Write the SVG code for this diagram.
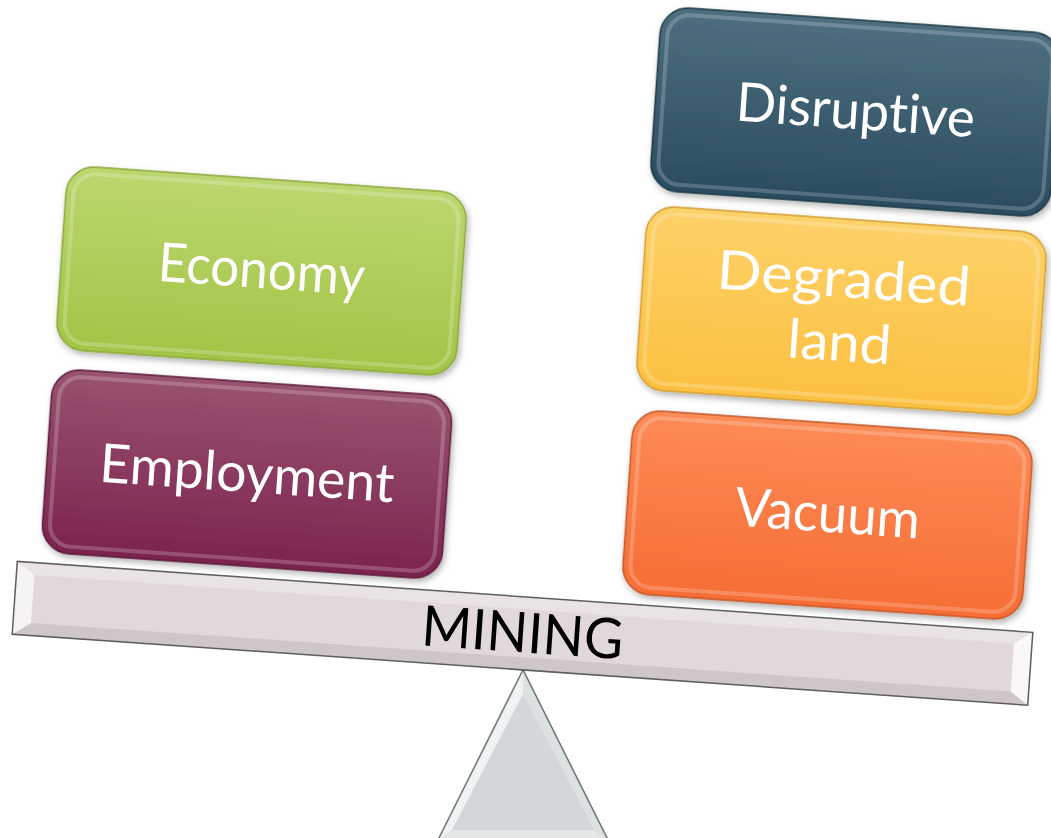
<svg xmlns="http://www.w3.org/2000/svg" width="1051" height="838" viewBox="0 0 1051 838">
<defs>
  <linearGradient id="gEco" x1="0" y1="0" x2="0" y2="1"><stop offset="0" stop-color="#bcd76f"/><stop offset="1" stop-color="#a2c446"/></linearGradient>
  <linearGradient id="gEmp" x1="0" y1="0" x2="0" y2="1"><stop offset="0" stop-color="#98536f"/><stop offset="1" stop-color="#7c234f"/></linearGradient>
  <linearGradient id="gDis" x1="0" y1="0" x2="0" y2="1"><stop offset="0" stop-color="#4e6f7e"/><stop offset="1" stop-color="#2a4c60"/></linearGradient>
  <linearGradient id="gDeg" x1="0" y1="0" x2="0" y2="1"><stop offset="0" stop-color="#fdd169"/><stop offset="1" stop-color="#fcc040"/></linearGradient>
  <linearGradient id="gVac" x1="0" y1="0" x2="0" y2="1"><stop offset="0" stop-color="#fd8b56"/><stop offset="1" stop-color="#f66d35"/></linearGradient>
  <filter id="sh" x="-10%" y="-10%" width="120%" height="130%">
    <feDropShadow dx="2" dy="3" stdDeviation="3" flood-color="#000" flood-opacity="0.3"/>
  </filter>
  <style>
    .outer { stroke-width: 1.5; filter: url(#sh); }
    .inner { fill: none; stroke: #ffffff; stroke-opacity: 0.2; stroke-width: 4; }
    .lbl { font-family: Lato, "Open Sans", "DejaVu Sans", sans-serif; font-size: 54px; fill: #ffffff; text-anchor: middle; font-variant-ligatures: none; }
    .mining { font-family: Lato, "Open Sans", "DejaVu Sans", sans-serif; font-size: 56px; fill: #000000; text-anchor: middle; font-variant-ligatures: none; }
  </style>
</defs>
<rect width="1051" height="838" fill="#ffffff"/>

<g id="fulcrum">
  <polygon points="523,670 437,842 609,842" fill="#d2d8d9" stroke="#777d7e" stroke-width="1.5"/>
  <polygon points="523,670 437,842 452,830 523,694" fill="#eef2f2"/>
  <polygon points="523,670 609,842 594,830 523,694" fill="#dbe0e1"/>
  <polygon points="437,842 609,842 594,830 452,830" fill="#e3e7e8"/>
  <polygon points="523,670 437,842 609,842" fill="none" stroke="#777d7e" stroke-width="1.5"/>
</g>

<g id="beam" transform="translate(522.5,633.3) rotate(4)">
  <rect x="-509" y="-36.5" width="1018" height="73" fill="#e0d8dc"/>
  <polygon points="-509,-36.5 509,-36.5 491,-24 -491,-24" fill="#e9e3e6"/>
  <polygon points="-509,36.5 509,36.5 491,24 -491,24" fill="#cfc6ca"/>
  <polygon points="-509,-36.5 -491,-24 -491,24 -509,36.5" fill="#f6f3f5"/>
  <polygon points="509,-36.5 491,-24 491,24 509,36.5" fill="#f9f7f8"/>
  <rect x="-509" y="-36.5" width="1018" height="73" fill="none" stroke="#5e5e5e" stroke-width="1.5"/>
  <text class="mining" x="0" y="19" textLength="202" lengthAdjust="spacingAndGlyphs">MINING</text>
</g>

<g id="economy" transform="translate(261.5,271) rotate(4)">
  <rect class="outer" x="-200.5" y="-92" width="401" height="184" rx="28" fill="url(#gEco)" stroke="#8aa83a"/>
  <rect class="inner" x="-193" y="-85" width="386" height="170" rx="22"/>
  <text class="lbl" x="0" y="17" textLength="207" lengthAdjust="spacingAndGlyphs">Economy</text>
</g>

<g id="employment" transform="translate(247,474) rotate(4)">
  <rect class="outer" x="-200.5" y="-92" width="401" height="184" rx="28" fill="url(#gEmp)" stroke="#5c1a3a"/>
  <rect class="inner" x="-193" y="-85" width="386" height="170" rx="22"/>
  <text class="lbl" x="0" y="18" textLength="295" lengthAdjust="spacingAndGlyphs">Employment</text>
</g>

<g id="disruptive" transform="translate(855.5,112) rotate(4)">
  <rect class="outer" x="-200.5" y="-92" width="401" height="184" rx="28" fill="url(#gDis)" stroke="#1c3746"/>
  <rect class="inner" x="-193" y="-85" width="386" height="170" rx="22"/>
  <text class="lbl" x="0" y="17" textLength="239" lengthAdjust="spacingAndGlyphs">Disruptive</text>
</g>

<g id="degraded-land" transform="translate(841.5,311) rotate(4)">
  <rect class="outer" x="-200.5" y="-92" width="401" height="184" rx="28" fill="url(#gDeg)" stroke="#d49d30"/>
  <rect class="inner" x="-193" y="-85" width="386" height="170" rx="22"/>
  <text class="lbl" x="0" y="-14" textLength="254" lengthAdjust="spacingAndGlyphs">Degraded</text>
  <text class="lbl" x="0" y="50" textLength="104" lengthAdjust="spacingAndGlyphs">land</text>
</g>

<g id="vacuum" transform="translate(827.5,515) rotate(4)">
  <rect class="outer" x="-200.5" y="-92" width="401" height="184" rx="28" fill="url(#gVac)" stroke="#c45726"/>
  <rect class="inner" x="-193" y="-85" width="386" height="170" rx="22"/>
  <text class="lbl" x="0" y="17" textLength="185" lengthAdjust="spacingAndGlyphs">Vacuum</text>
</g>

<g id="connectors"></g>
</svg>
